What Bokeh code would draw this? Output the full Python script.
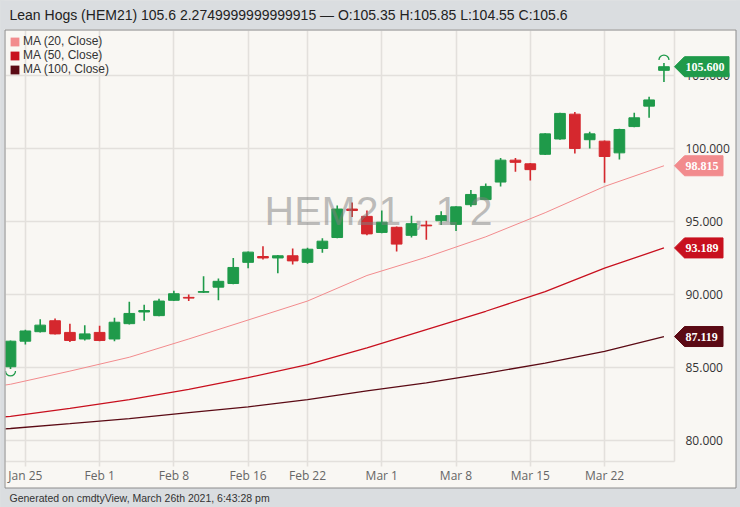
import numpy as np
from bokeh.plotting import figure
from bokeh.models import (Range1d, FixedTicker, Label, Legend, LegendItem,
                          ColumnDataSource, NumeralTickFormatter)
from bokeh.embed import file_html
from bokeh.resources import INLINE
from bokeh.core.properties import value

# ---------------- data ----------------
dates = ["Jan 22",
         "Jan 25", "Jan 26", "Jan 27", "Jan 28", "Jan 29",
         "Feb 1", "Feb 2", "Feb 3", "Feb 4", "Feb 5",
         "Feb 8", "Feb 9", "Feb 10", "Feb 11", "Feb 12",
         "Feb 16", "Feb 17", "Feb 18", "Feb 19",
         "Feb 22", "Feb 23", "Feb 24", "Feb 25", "Feb 26",
         "Mar 1", "Mar 2", "Mar 3", "Mar 4", "Mar 5",
         "Mar 8", "Mar 9", "Mar 10", "Mar 11", "Mar 12",
         "Mar 15", "Mar 16", "Mar 17", "Mar 18", "Mar 19",
         "Mar 22", "Mar 23", "Mar 24", "Mar 25", "Mar 26"]

opens = [85.05, 86.80, 87.45, 88.20, 87.40, 86.95, 87.40, 86.95, 88.00, 88.80,
         88.55, 89.60, 89.80, 90.15, 90.50, 90.75, 92.20, 92.60, 92.50, 92.65,
         92.20, 93.15, 93.90, 95.85, 95.35, 94.25, 94.60, 94.05, 94.75, 95.05,
         94.80, 96.15, 96.50, 97.70, 99.20, 98.95, 99.60, 100.65, 102.35, 100.60,
         100.50, 99.70, 101.50, 102.90, 105.35]
highs = [86.85, 87.58, 88.30, 88.35, 88.00, 87.90, 87.85, 88.40, 89.50, 89.30,
         89.70, 90.25, 90.00, 91.25, 91.10, 92.50, 92.95, 93.30, 92.70, 93.15,
         93.20, 93.85, 96.10, 96.30, 95.75, 95.75, 94.65, 95.40, 95.05, 95.70,
         96.05, 97.15, 97.60, 99.35, 99.35, 99.00, 101.05, 102.45, 102.50, 101.15,
         100.55, 101.35, 102.45, 103.55, 105.85]
lows = [84.90, 86.58, 87.40, 87.25, 86.75, 86.85, 86.80, 86.80, 87.95, 88.20,
        88.50, 89.55, 89.55, 90.10, 89.60, 90.70, 91.80, 92.40, 91.45, 92.05,
        92.10, 92.85, 93.85, 95.30, 94.05, 94.20, 92.95, 93.90, 93.75, 94.75,
        94.35, 96.00, 96.50, 97.40, 98.40, 97.80, 99.55, 100.60, 99.65, 100.00,
        97.65, 99.25, 101.45, 102.10, 104.55]
closes = [86.80, 87.50, 87.90, 87.30, 86.85, 87.30, 86.85, 88.10, 88.70, 88.90,
          89.55, 90.05, 89.75, 90.20, 90.90, 91.85, 92.90, 92.50, 92.65, 92.30,
          93.10, 93.65, 95.85, 95.75, 94.15, 94.95, 93.45, 94.85, 94.70, 95.40,
          96.00, 96.85, 97.40, 99.20, 99.05, 98.55, 101.00, 102.40, 100.00, 101.00,
          99.45, 101.30, 102.10, 103.325, 105.60]

# moving averages, read at sample positions (trading-day index)
ma_x = [-1, 0, 4, 8, 12, 16, 20, 24, 28, 32, 36, 40, 44]
ma20 = [83.70, 83.85, 84.75, 85.70, 86.95, 88.25, 89.55, 91.30, 92.55, 93.95, 95.60, 97.40, 98.815]
ma50 = [81.58, 81.65, 82.20, 82.80, 83.50, 84.30, 85.20, 86.35, 87.60, 88.85, 90.20, 91.80, 93.189]
ma100 = [80.75, 80.82, 81.15, 81.50, 81.90, 82.30, 82.80, 83.40, 83.95, 84.60, 85.30, 86.10, 87.119]

tick_dates = ["Jan 25", "Feb 1", "Feb 8", "Feb 16", "Feb 22", "Mar 1", "Mar 8", "Mar 15", "Mar 22"]
y_ticks = [80, 85, 90, 95, 100, 105]

title_text = "Lean Hogs (HEM21) 105.6 2.2749999999999915 \u2014 O:105.35 H:105.85 L:104.55 C:105.6"
footer_text = "Generated on cmdtyView, March 26th 2021, 6:43:28 pm"
watermark_text = "HEM21 , 1 2"
legend_labels = ["MA (20, Close)", "MA (50, Close)", "MA (100, Close)"]

# ---------------- style ----------------
PANEL = "#f9f7f3"
OUTER = "#dadde0"
GRID = "#e3e0dc"
GREEN = "#1f9a4a"
RED = "#d5282e"
C20 = "#f28b8d"
C50 = "#c8101e"
C100 = "#5b0a14"

W, H = 740, 507
FL, FR, FT, FB = 5, 674, 30, 461
x0, x1 = -0.337, 44.71
y1 = 108.08
y0 = y1 - (FB - FT) / 14.6
px_y = (y1 - y0) / (FB - FT)
px_x = (x1 - x0) / (FR - FL)


def dx(px):
    return x0 + (px - FL) * px_x


def dy(py):
    return y1 - (py - FT) * px_y


p = figure(width=W, height=H, output_backend="svg", toolbar_location=None,
           x_range=Range1d(x0, x1), y_range=Range1d(y0, y1),
           x_axis_location="below", y_axis_location="right",
           min_border_left=FL, min_border_right=W - FR, min_border_top=FT, min_border_bottom=H - FB,
           background_fill_color=PANEL, border_fill_color=PANEL, outline_line_color=None)

idx = list(range(len(dates)))
ticks = [dates.index(d) for d in tick_dates]

# grid
p.xgrid.ticker = FixedTicker(ticks=ticks)
p.ygrid.ticker = FixedTicker(ticks=y_ticks)
for g in (p.xgrid[0], p.ygrid[0]):
    g.grid_line_color = GRID
    g.grid_line_width = 1.6

# x axis
xa = p.xaxis[0]
xa.ticker = FixedTicker(ticks=ticks)
xa.major_label_overrides = {t: d for t, d in zip(ticks, tick_dates)}
xa.axis_line_color = GRID
xa.axis_line_width = 1.6
xa.major_tick_line_color = GRID
xa.major_tick_line_width = 1.6
xa.major_tick_in = 0
xa.major_tick_out = 5
xa.minor_tick_line_color = None
xa.major_label_standoff = 0
xa.major_label_text_font = "Open Sans"
xa.major_label_text_font_size = "12px"
xa.major_label_text_color = "#666666"

# y axis
ya = p.yaxis[0]
ya.ticker = FixedTicker(ticks=y_ticks)
ya.formatter = NumeralTickFormatter(format="0.000")
ya.axis_line_color = GRID
ya.axis_line_width = 1.6
ya.major_tick_in = 0
ya.major_tick_out = 0
ya.minor_tick_line_color = None
ya.major_label_standoff = 11
ya.major_label_text_font = "Open Sans"
ya.major_label_text_font_size = "12px"
ya.major_label_text_color = "#333333"

# moving averages
p.line(ma_x, ma100, line_color=C100, line_width=1.3)
p.line(ma_x, ma50, line_color=C50, line_width=1.3)
p.line(ma_x, ma20, line_color=C20, line_width=1.0)

# candles
colors = [GREEN if c >= o else RED for o, c in zip(opens, closes)]
src = ColumnDataSource(dict(x=idx, o=opens, h=highs, l=lows, c=closes,
                            top=[max(o, c) for o, c in zip(opens, closes)],
                            bottom=[min(o, c) for o, c in zip(opens, closes)],
                            color=colors))
p.segment(x0="x", y0="h", x1="x", y1="l", source=src, line_color="color", line_width=1.6)
p.vbar(x="x", width=0.72, top="top", bottom="bottom", source=src,
       fill_color="color", line_color="color", line_width=1)

# highest-high / lowest-low markers
ih = int(np.argmax(highs))
il = int(np.argmin(lows))
p.arc(x=[ih], y=[highs[ih] + 3 * px_y], radius=5, radius_units="screen",
      start_angle=0, end_angle=np.pi, line_color=colors[ih], line_width=1.3)
p.arc(x=[il], y=[lows[il] - 2 * px_y], radius=5, radius_units="screen",
      start_angle=np.pi, end_angle=2 * np.pi, line_color=colors[il], line_width=1.3)

# watermark
p.add_layout(Label(x=378, y=210, x_units="canvas", y_units="canvas", text=watermark_text,
                   text_font="Liberation Sans", text_font_size="41px", text_color="#808080",
                   text_alpha=0.5, text_align="center", text_baseline="middle", level="overlay"))

# legend (square swatches)
sw = [p.vbar(x=[np.nan], top=[np.nan], width=1, fill_color=c, line_color=None)
      for c in (C20, C50, C100)]
leg = Legend(items=[LegendItem(label=l, renderers=[r]) for l, r in zip(legend_labels, sw)],
             location="top_left", margin=4, padding=4, spacing=0,
             glyph_width=11, glyph_height=11, label_height=13, label_standoff=3,
             label_text_font="Liberation Sans", label_text_font_size="12px",
             label_text_color="#333333", background_fill_alpha=0, border_line_color=None)
p.add_layout(leg)

# outer gray surround and panel border (drawn above the border area)
strips = [(0, W, 0, 29), (0, W, 487.5, H), (0, 4, 0, H), (735.5, W, 0, H)]
p.quad(left=[dx(s[0]) for s in strips], right=[dx(s[1]) for s in strips],
       top=[dy(s[2]) for s in strips], bottom=[dy(s[3]) for s in strips],
       fill_color=OUTER, line_color=None, level="overlay")
p.quad(left=[dx(4.5)], right=[dx(735.5)], top=[dy(29.5)], bottom=[dy(487.5)],
       fill_alpha=0, line_color="#8c8c8c", line_width=1, level="overlay")

# last-value tags
tag_vals = [closes[-1], ma20[-1], ma50[-1], ma100[-1]]
tag_cols = [GREEN, C20, C50, C100]
tag_txt = ["%.3f" % v for v in tag_vals]
xs, ys = [], []
for v, t in zip(tag_vals, tag_txt):
    wpx = 11 + 6 * sum(ch.isdigit() for ch in t) + 3 + 4.5
    xs.append([x1, x1 + 10 * px_x, x1 + wpx * px_x, x1 + wpx * px_x, x1 + 10 * px_x])
    ys.append([v, v + 10 * px_y, v + 10 * px_y, v - 10 * px_y, v - 10 * px_y])
p.patches(xs=xs, ys=ys, fill_color=tag_cols, line_color=tag_cols, level="overlay")
p.text(x=[x1 + 11 * px_x] * 4, y=tag_vals, text=tag_txt, text_font=value("Liberation Serif"),
       text_font_style="bold", text_font_size="12px", text_color="white",
       text_baseline="middle", text_align="left", level="overlay")

# title and footer
p.text(x=[dx(9)], y=[dy(14)], text=[title_text], text_font=value("Liberation Sans"),
       text_font_size="14px", text_color="#222222", text_baseline="middle",
       text_align="left", level="overlay")
p.text(x=[dx(9)], y=[dy(497)], text=[footer_text], text_font=value("Liberation Sans"),
       text_font_size="10.5px", text_color="#333333", text_baseline="middle",
       text_align="left", level="overlay")

html = file_html(p, INLINE)
html = html.replace("<head>", "<head><style>body{margin:0;background:%s}</style>" % OUTER, 1)
open("out.html", "w").write(html)
